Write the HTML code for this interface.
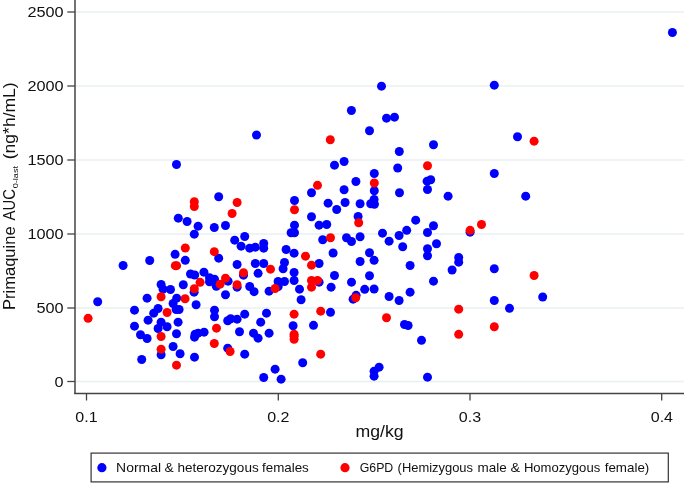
<!DOCTYPE html>
<html><head><meta charset="utf-8">
<style>
html,body{margin:0;padding:0;background:#fff;}
body{width:685px;height:484px;overflow:hidden;}
svg{display:block;font-family:"Liberation Sans",sans-serif;fill:#111;}
</style></head><body>
<svg width="685" height="484" viewBox="0 0 685 484">
<rect width="685" height="484" fill="#fff"/>
<g stroke="#e8f0f2" stroke-width="1.4">
<line x1="76" x2="684" y1="12" y2="12"/>
<line x1="76" x2="684" y1="86" y2="86"/>
<line x1="76" x2="684" y1="160" y2="160"/>
<line x1="76" x2="684" y1="234" y2="234"/>
<line x1="76" x2="684" y1="308" y2="308"/>
<line x1="76" x2="684" y1="381.5" y2="381.5"/>
</g>
<g stroke="#444" stroke-width="1.3">
<line x1="75" x2="75" y1="0" y2="394" stroke-width="1.5"/>
<line x1="74.2" x2="684" y1="393.4" y2="393.4" stroke-width="1.5"/>
<line x1="67.3" x2="75" y1="12" y2="12"/>
<line x1="67.3" x2="75" y1="86" y2="86"/>
<line x1="67.3" x2="75" y1="160" y2="160"/>
<line x1="67.3" x2="75" y1="234" y2="234"/>
<line x1="67.3" x2="75" y1="308" y2="308"/>
<line x1="67.3" x2="75" y1="381.5" y2="381.5"/>
<line x1="86.5" x2="86.5" y1="393" y2="400.5"/>
<line x1="278.3" x2="278.3" y1="393" y2="400.5"/>
<line x1="470" x2="470" y1="393" y2="400.5"/>
<line x1="661.7" x2="661.7" y1="393" y2="400.5"/>
</g>
<g font-size="15.5" text-anchor="end">
<text x="63.6" y="17.4" textLength="36.2" lengthAdjust="spacingAndGlyphs">2500</text>
<text x="63.6" y="91.4" textLength="36.2" lengthAdjust="spacingAndGlyphs">2000</text>
<text x="63.6" y="165.4" textLength="36.2" lengthAdjust="spacingAndGlyphs">1500</text>
<text x="63.6" y="239.4" textLength="36.2" lengthAdjust="spacingAndGlyphs">1000</text>
<text x="63.6" y="313.4" textLength="27.2" lengthAdjust="spacingAndGlyphs">500</text>
<text x="63.6" y="386.9" textLength="9" lengthAdjust="spacingAndGlyphs">0</text>
</g>
<g font-size="15.5" text-anchor="middle">
<text x="86.5" y="422" textLength="22.3" lengthAdjust="spacingAndGlyphs">0.1</text>
<text x="278.3" y="422" textLength="22.3" lengthAdjust="spacingAndGlyphs">0.2</text>
<text x="470" y="422" textLength="22.3" lengthAdjust="spacingAndGlyphs">0.3</text>
<text x="661.9" y="422" textLength="22.3" lengthAdjust="spacingAndGlyphs">0.4</text>
</g>
<text x="355.4" y="436.9" font-size="16.8" textLength="48.2" lengthAdjust="spacingAndGlyphs">mg/kg</text>
<g transform="translate(15.3,0) rotate(-90)" font-size="17">
<text x="-310" y="0" textLength="83.6" lengthAdjust="spacingAndGlyphs">Primaquine</text>
<text x="-220.5" y="0" textLength="31.5" lengthAdjust="spacingAndGlyphs">AUC</text>
<text x="-188.3" y="2.7" font-size="8" textLength="22.3" lengthAdjust="spacingAndGlyphs">0-last</text>
<text x="-159.3" y="0" textLength="77" lengthAdjust="spacingAndGlyphs">(ng*h/mL)</text>
</g>
<rect x="91.1" y="453.1" width="577.2" height="28.8" fill="#fff" stroke="#333" stroke-width="1.2"/>
<circle cx="101.9" cy="467.7" r="4.6" fill="#0000ff"/>
<circle cx="345" cy="467.7" r="4.6" fill="#ff0000"/>
<g font-size="13">
<text x="116.1" y="471.8" textLength="44.9" lengthAdjust="spacingAndGlyphs">Normal</text>
<text x="164.5" y="471.8" textLength="9.2" lengthAdjust="spacingAndGlyphs">&amp;</text>
<text x="177.4" y="471.8" textLength="81.3" lengthAdjust="spacingAndGlyphs">heterozygous</text>
<text x="262.0" y="471.8" textLength="46.8" lengthAdjust="spacingAndGlyphs">females</text>
<text x="359.7" y="471.8" textLength="33.6" lengthAdjust="spacingAndGlyphs">G6PD</text>
<text x="397.6" y="471.8" textLength="75.4" lengthAdjust="spacingAndGlyphs">(Hemizygous</text>
<text x="477.5" y="471.8" textLength="29.2" lengthAdjust="spacingAndGlyphs">male</text>
<text x="510.4" y="471.8" textLength="9.6" lengthAdjust="spacingAndGlyphs">&amp;</text>
<text x="523.9" y="471.8" textLength="76.3" lengthAdjust="spacingAndGlyphs">Homozygous</text>
<text x="604.7" y="471.8" textLength="44.6" lengthAdjust="spacingAndGlyphs">female)</text>
</g>
<g id="blue" fill="#0000ff">
<circle cx="176.50" cy="164.55" r="4.5"/>
<circle cx="256.50" cy="134.95" r="4.5"/>
<circle cx="351.40" cy="110.55" r="4.5"/>
<circle cx="334.50" cy="165.15" r="4.5"/>
<circle cx="344.10" cy="161.55" r="4.5"/>
<circle cx="311.50" cy="192.75" r="4.5"/>
<circle cx="344.10" cy="189.75" r="4.5"/>
<circle cx="386.50" cy="118.15" r="4.5"/>
<circle cx="394.50" cy="117.15" r="4.5"/>
<circle cx="369.50" cy="130.75" r="4.5"/>
<circle cx="433.50" cy="144.75" r="4.5"/>
<circle cx="399.30" cy="151.55" r="4.5"/>
<circle cx="397.70" cy="167.95" r="4.5"/>
<circle cx="374.30" cy="173.55" r="4.5"/>
<circle cx="355.90" cy="181.55" r="4.5"/>
<circle cx="374.30" cy="190.75" r="4.5"/>
<circle cx="427.10" cy="181.15" r="4.5"/>
<circle cx="430.70" cy="179.75" r="4.5"/>
<circle cx="427.50" cy="189.55" r="4.5"/>
<circle cx="399.50" cy="192.75" r="4.5"/>
<circle cx="517.50" cy="136.75" r="4.5"/>
<circle cx="494.30" cy="173.55" r="4.5"/>
<circle cx="525.70" cy="196.15" r="4.5"/>
<circle cx="381.50" cy="86.15" r="4.5"/>
<circle cx="494.30" cy="85.15" r="4.5"/>
<circle cx="672.40" cy="32.45" r="4.5"/>
<circle cx="178.30" cy="218.15" r="4.5"/>
<circle cx="187.10" cy="221.55" r="4.5"/>
<circle cx="198.10" cy="226.15" r="4.5"/>
<circle cx="194.30" cy="234.15" r="4.5"/>
<circle cx="214.30" cy="227.55" r="4.5"/>
<circle cx="175.10" cy="254.35" r="4.5"/>
<circle cx="185.30" cy="260.35" r="4.5"/>
<circle cx="149.70" cy="260.55" r="4.5"/>
<circle cx="123.10" cy="265.55" r="4.5"/>
<circle cx="190.50" cy="273.95" r="4.5"/>
<circle cx="194.70" cy="274.95" r="4.5"/>
<circle cx="203.90" cy="272.15" r="4.5"/>
<circle cx="209.50" cy="277.75" r="4.5"/>
<circle cx="209.50" cy="281.75" r="4.5"/>
<circle cx="183.30" cy="284.75" r="4.5"/>
<circle cx="161.10" cy="284.55" r="4.5"/>
<circle cx="163.10" cy="289.15" r="4.5"/>
<circle cx="170.50" cy="289.55" r="4.5"/>
<circle cx="218.70" cy="196.75" r="4.5"/>
<circle cx="294.50" cy="200.55" r="4.5"/>
<circle cx="328.10" cy="203.15" r="4.5"/>
<circle cx="345.10" cy="202.55" r="4.5"/>
<circle cx="336.70" cy="209.55" r="4.5"/>
<circle cx="311.50" cy="216.75" r="4.5"/>
<circle cx="319.10" cy="225.15" r="4.5"/>
<circle cx="326.70" cy="224.55" r="4.5"/>
<circle cx="294.50" cy="225.15" r="4.5"/>
<circle cx="291.10" cy="232.75" r="4.5"/>
<circle cx="294.50" cy="232.75" r="4.5"/>
<circle cx="225.50" cy="225.55" r="4.5"/>
<circle cx="244.70" cy="236.55" r="4.5"/>
<circle cx="234.70" cy="240.15" r="4.5"/>
<circle cx="241.10" cy="246.15" r="4.5"/>
<circle cx="249.70" cy="248.15" r="4.5"/>
<circle cx="255.30" cy="247.15" r="4.5"/>
<circle cx="263.70" cy="243.45" r="4.5"/>
<circle cx="263.70" cy="248.15" r="4.5"/>
<circle cx="322.70" cy="239.75" r="4.5"/>
<circle cx="346.50" cy="237.75" r="4.5"/>
<circle cx="286.10" cy="249.55" r="4.5"/>
<circle cx="294.10" cy="253.15" r="4.5"/>
<circle cx="333.10" cy="252.95" r="4.5"/>
<circle cx="218.70" cy="258.15" r="4.5"/>
<circle cx="237.10" cy="264.55" r="4.5"/>
<circle cx="255.30" cy="263.55" r="4.5"/>
<circle cx="263.70" cy="263.55" r="4.5"/>
<circle cx="284.50" cy="262.55" r="4.5"/>
<circle cx="283.10" cy="268.75" r="4.5"/>
<circle cx="319.10" cy="263.55" r="4.5"/>
<circle cx="258.10" cy="273.35" r="4.5"/>
<circle cx="243.50" cy="275.15" r="4.5"/>
<circle cx="294.10" cy="272.55" r="4.5"/>
<circle cx="294.10" cy="280.55" r="4.5"/>
<circle cx="334.50" cy="275.55" r="4.5"/>
<circle cx="278.10" cy="281.55" r="4.5"/>
<circle cx="278.20" cy="286.55" r="4.5"/>
<circle cx="284.50" cy="281.55" r="4.5"/>
<circle cx="214.50" cy="279.15" r="4.5"/>
<circle cx="216.30" cy="286.35" r="4.5"/>
<circle cx="228.10" cy="281.15" r="4.5"/>
<circle cx="249.70" cy="286.55" r="4.5"/>
<circle cx="299.50" cy="289.15" r="4.5"/>
<circle cx="331.10" cy="287.15" r="4.5"/>
<circle cx="319.10" cy="282.15" r="4.5"/>
<circle cx="237.10" cy="287.15" r="4.5"/>
<circle cx="269.10" cy="291.15" r="4.5"/>
<circle cx="254.10" cy="291.65" r="4.5"/>
<circle cx="374.10" cy="199.55" r="4.5"/>
<circle cx="370.70" cy="203.75" r="4.5"/>
<circle cx="374.40" cy="204.25" r="4.5"/>
<circle cx="360.10" cy="203.75" r="4.5"/>
<circle cx="448.10" cy="196.15" r="4.5"/>
<circle cx="358.10" cy="216.55" r="4.5"/>
<circle cx="415.70" cy="220.15" r="4.5"/>
<circle cx="433.50" cy="225.75" r="4.5"/>
<circle cx="406.70" cy="230.35" r="4.5"/>
<circle cx="427.50" cy="232.55" r="4.5"/>
<circle cx="382.50" cy="233.15" r="4.5"/>
<circle cx="399.10" cy="235.55" r="4.5"/>
<circle cx="470.10" cy="232.15" r="4.5"/>
<circle cx="360.10" cy="236.75" r="4.5"/>
<circle cx="351.50" cy="241.55" r="4.5"/>
<circle cx="389.10" cy="241.15" r="4.5"/>
<circle cx="402.70" cy="246.75" r="4.5"/>
<circle cx="436.50" cy="243.75" r="4.5"/>
<circle cx="427.50" cy="248.75" r="4.5"/>
<circle cx="427.50" cy="255.75" r="4.5"/>
<circle cx="369.50" cy="252.75" r="4.5"/>
<circle cx="360.10" cy="261.55" r="4.5"/>
<circle cx="374.10" cy="260.35" r="4.5"/>
<circle cx="410.10" cy="265.55" r="4.5"/>
<circle cx="458.70" cy="257.55" r="4.5"/>
<circle cx="458.70" cy="262.15" r="4.5"/>
<circle cx="452.10" cy="269.95" r="4.5"/>
<circle cx="369.50" cy="275.75" r="4.5"/>
<circle cx="433.50" cy="281.15" r="4.5"/>
<circle cx="351.50" cy="282.15" r="4.5"/>
<circle cx="364.70" cy="289.35" r="4.5"/>
<circle cx="374.10" cy="288.95" r="4.5"/>
<circle cx="410.10" cy="292.15" r="4.5"/>
<circle cx="494.30" cy="268.75" r="4.5"/>
<circle cx="97.70" cy="301.75" r="4.5"/>
<circle cx="147.10" cy="298.15" r="4.5"/>
<circle cx="134.50" cy="310.15" r="4.5"/>
<circle cx="134.50" cy="326.15" r="4.5"/>
<circle cx="148.10" cy="320.15" r="4.5"/>
<circle cx="140.50" cy="334.75" r="4.5"/>
<circle cx="147.10" cy="338.55" r="4.5"/>
<circle cx="141.70" cy="359.55" r="4.5"/>
<circle cx="158.10" cy="308.55" r="4.5"/>
<circle cx="153.70" cy="313.15" r="4.5"/>
<circle cx="161.10" cy="322.15" r="4.5"/>
<circle cx="158.10" cy="328.55" r="4.5"/>
<circle cx="167.10" cy="326.75" r="4.5"/>
<circle cx="161.10" cy="354.75" r="4.5"/>
<circle cx="176.70" cy="298.15" r="4.5"/>
<circle cx="173.10" cy="303.55" r="4.5"/>
<circle cx="176.10" cy="309.55" r="4.5"/>
<circle cx="179.10" cy="309.55" r="4.5"/>
<circle cx="178.10" cy="322.15" r="4.5"/>
<circle cx="176.50" cy="333.75" r="4.5"/>
<circle cx="173.10" cy="346.55" r="4.5"/>
<circle cx="180.10" cy="353.75" r="4.5"/>
<circle cx="196.10" cy="304.75" r="4.5"/>
<circle cx="194.10" cy="292.15" r="4.5"/>
<circle cx="194.50" cy="337.15" r="4.5"/>
<circle cx="195.10" cy="334.15" r="4.5"/>
<circle cx="198.10" cy="333.15" r="4.5"/>
<circle cx="204.10" cy="332.15" r="4.5"/>
<circle cx="194.50" cy="357.15" r="4.5"/>
<circle cx="225.50" cy="294.75" r="4.5"/>
<circle cx="301.10" cy="299.75" r="4.5"/>
<circle cx="214.50" cy="310.15" r="4.5"/>
<circle cx="214.50" cy="316.75" r="4.5"/>
<circle cx="227.70" cy="320.75" r="4.5"/>
<circle cx="230.70" cy="318.75" r="4.5"/>
<circle cx="237.10" cy="319.15" r="4.5"/>
<circle cx="244.70" cy="314.15" r="4.5"/>
<circle cx="266.50" cy="313.15" r="4.5"/>
<circle cx="260.70" cy="322.15" r="4.5"/>
<circle cx="239.50" cy="331.75" r="4.5"/>
<circle cx="253.50" cy="333.15" r="4.5"/>
<circle cx="258.10" cy="338.15" r="4.5"/>
<circle cx="269.10" cy="333.15" r="4.5"/>
<circle cx="293.10" cy="325.75" r="4.5"/>
<circle cx="313.50" cy="325.35" r="4.5"/>
<circle cx="330.50" cy="312.35" r="4.5"/>
<circle cx="227.70" cy="348.15" r="4.5"/>
<circle cx="244.70" cy="354.15" r="4.5"/>
<circle cx="302.70" cy="362.75" r="4.5"/>
<circle cx="275.10" cy="369.15" r="4.5"/>
<circle cx="263.70" cy="377.55" r="4.5"/>
<circle cx="281.10" cy="379.15" r="4.5"/>
<circle cx="353.10" cy="299.15" r="4.5"/>
<circle cx="356.10" cy="295.35" r="4.5"/>
<circle cx="389.10" cy="296.55" r="4.5"/>
<circle cx="399.10" cy="300.55" r="4.5"/>
<circle cx="404.50" cy="324.55" r="4.5"/>
<circle cx="408.10" cy="325.55" r="4.5"/>
<circle cx="421.50" cy="340.35" r="4.5"/>
<circle cx="379.10" cy="367.15" r="4.5"/>
<circle cx="374.10" cy="371.15" r="4.5"/>
<circle cx="374.10" cy="376.15" r="4.5"/>
<circle cx="427.50" cy="377.15" r="4.5"/>
<circle cx="494.30" cy="300.55" r="4.5"/>
<circle cx="509.50" cy="308.35" r="4.5"/>
<circle cx="542.70" cy="296.95" r="4.5"/>
</g>
<g id="red" fill="#ff0000">
<circle cx="330.30" cy="139.75" r="4.5"/>
<circle cx="317.50" cy="185.35" r="4.5"/>
<circle cx="427.50" cy="165.75" r="4.5"/>
<circle cx="374.30" cy="182.95" r="4.5"/>
<circle cx="534.10" cy="141.15" r="4.5"/>
<circle cx="194.30" cy="201.75" r="4.5"/>
<circle cx="194.30" cy="206.55" r="4.5"/>
<circle cx="185.30" cy="247.95" r="4.5"/>
<circle cx="214.30" cy="251.65" r="4.5"/>
<circle cx="175.30" cy="265.65" r="4.5"/>
<circle cx="176.60" cy="265.65" r="4.5"/>
<circle cx="200.10" cy="282.35" r="4.5"/>
<circle cx="194.30" cy="288.75" r="4.5"/>
<circle cx="237.10" cy="202.55" r="4.5"/>
<circle cx="232.10" cy="213.55" r="4.5"/>
<circle cx="294.50" cy="209.75" r="4.5"/>
<circle cx="330.50" cy="237.75" r="4.5"/>
<circle cx="305.50" cy="256.15" r="4.5"/>
<circle cx="311.50" cy="265.15" r="4.5"/>
<circle cx="270.50" cy="269.15" r="4.5"/>
<circle cx="243.50" cy="272.75" r="4.5"/>
<circle cx="225.50" cy="278.15" r="4.5"/>
<circle cx="220.10" cy="284.15" r="4.5"/>
<circle cx="237.10" cy="284.75" r="4.5"/>
<circle cx="311.50" cy="280.55" r="4.5"/>
<circle cx="317.50" cy="280.55" r="4.5"/>
<circle cx="311.50" cy="287.15" r="4.5"/>
<circle cx="275.10" cy="288.55" r="4.5"/>
<circle cx="358.70" cy="222.75" r="4.5"/>
<circle cx="470.10" cy="230.35" r="4.5"/>
<circle cx="481.50" cy="224.55" r="4.5"/>
<circle cx="534.10" cy="275.55" r="4.5"/>
<circle cx="88.10" cy="318.35" r="4.5"/>
<circle cx="161.10" cy="296.75" r="4.5"/>
<circle cx="185.10" cy="298.75" r="4.5"/>
<circle cx="167.10" cy="312.55" r="4.5"/>
<circle cx="161.10" cy="336.55" r="4.5"/>
<circle cx="161.10" cy="349.15" r="4.5"/>
<circle cx="176.50" cy="365.15" r="4.5"/>
<circle cx="214.30" cy="343.55" r="4.5"/>
<circle cx="216.50" cy="328.15" r="4.5"/>
<circle cx="230.10" cy="351.55" r="4.5"/>
<circle cx="294.10" cy="314.15" r="4.5"/>
<circle cx="294.10" cy="334.15" r="4.5"/>
<circle cx="294.10" cy="336.15" r="4.5"/>
<circle cx="294.10" cy="339.35" r="4.5"/>
<circle cx="320.70" cy="311.15" r="4.5"/>
<circle cx="320.70" cy="354.15" r="4.5"/>
<circle cx="355.70" cy="297.75" r="4.5"/>
<circle cx="386.50" cy="317.75" r="4.5"/>
<circle cx="458.70" cy="309.15" r="4.5"/>
<circle cx="458.70" cy="334.35" r="4.5"/>
<circle cx="494.30" cy="326.75" r="4.5"/>
</g>
</svg>
</body></html>
